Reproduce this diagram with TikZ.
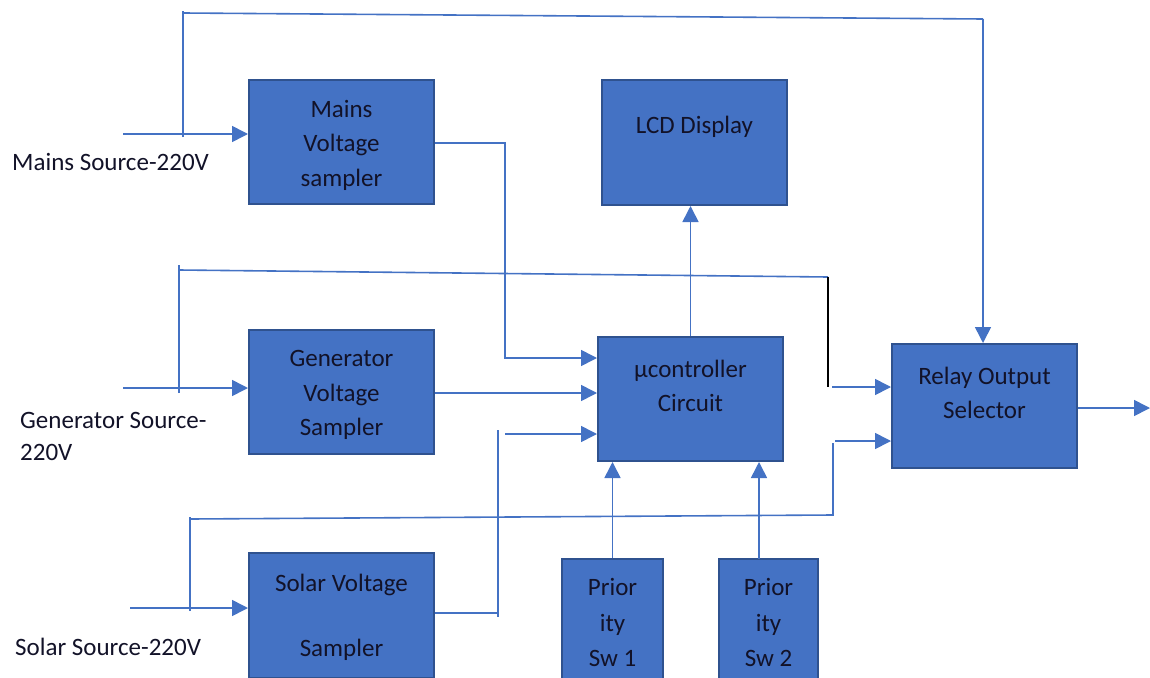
\documentclass[tikz,border=0pt]{standalone}
\usepackage{fontspec}
\setmainfont{Carlito}
\usetikzlibrary{arrows.meta}
\definecolor{boxfill}{HTML}{4472C4}
\definecolor{boxline}{HTML}{2F528F}
\definecolor{wirecol}{HTML}{4472C4}
\definecolor{txtcol}{RGB}{18,18,40}
\tikzset{
  blk/.style={draw=boxline, line width=2pt, fill=boxfill, inner sep=0pt},
  btxt/.style={inner sep=0pt, align=center, text=txtcol, font=\fontsize{25}{34.5}\selectfont},
  wire/.style={draw=wirecol, line width=1.6pt},
  arr/.style={wire, -{Triangle[length=16pt,width=16pt]}},
  lbl/.style={inner sep=0pt, align=left, text=txtcol, font=\fontsize{25}{32}\selectfont},
}
\begin{document}
\begin{tikzpicture}[x=1pt,y=-1pt]
\useasboundingbox (0,0) rectangle (1150,677);
% boxes
\node[blk, minimum width=185pt, minimum height=124pt] (mains) at (341.5,142) {};
\node[blk, minimum width=185pt, minimum height=125pt] (lcd) at (694.5,142.5) {};
\node[blk, minimum width=185pt, minimum height=124pt] (muc) at (690.5,399) {};
\node[blk, minimum width=185pt, minimum height=124pt] (gen) at (341.5,392) {};
\node[blk, minimum width=185pt, minimum height=124pt] (relay) at (984.5,406) {};
\node[blk, minimum width=185pt, minimum height=125pt] (solar) at (341.5,615.5) {};
\node[blk, minimum width=101pt, minimum height=127pt] (sw1) at (612.5,622.5) {};
\node[blk, minimum width=99pt, minimum height=127pt] (sw2) at (768.5,622.5) {};
% box texts
\node[btxt] (mainsT) at (341.5,145) {Mains\\Voltage\\sampler};
\node[btxt] (lcdT) at (694.5,126.5) {LCD Display};
\node[btxt, font=\fontsize{25}{33.5}\selectfont] (mucT) at (690.5,386) {µcontroller\\Circuit};
\node[btxt] (genT) at (341.5,395) {Generator\\Voltage\\Sampler};
\node[btxt, font=\fontsize{25}{33.5}\selectfont] (relayT) at (984.5,393) {Relay Output\\Selector};
\node[btxt, font=\fontsize{25}{32.5}\selectfont] (solarT) at (341.5,617.5) {Solar Voltage\\ \strut\\Sampler};
\node[btxt, font=\fontsize{25}{35.5}\selectfont] (sw1T) at (612.5,622.5) {Prior\\ity\\Sw 1};
\node[btxt, font=\fontsize{25}{35.5}\selectfont] (sw2T) at (768.5,622.5) {Prior\\ity\\Sw 2};
% labels
\node[lbl, anchor=west] (lm) at (12,162) {Mains Source-220V};
\node[lbl, anchor=west] (lg) at (20,436) {Generator Source-\\220V};
\node[lbl, anchor=west] (ls) at (15,647) {Solar Source-220V};
% mains input and bypass to relay
\coordinate (mIn) at (123,134);
\draw[arr] (mIn) -- (mIn -| mains.west);
\coordinate (mTapB) at (183,137);
\coordinate (mTapT) at (183,11);
\coordinate (mTopL) at (183,13);
\coordinate (mTopR) at (983,19);
\draw[wire] (mTapB) -- (mTapT);
\draw[wire] (mTopL) -- (mTopR);
\draw[arr] (mTopR) -- (mTopR |- relay.north);
% mains sampler to micro
\coordinate (m1) at (505,143);
\coordinate (m2) at (505,358);
\draw[arr] (m1 -| mains.east) -- (m1) -- (m2) -- (m2 -| muc.west);
% generator input and bypass
\coordinate (gIn) at (123,388);
\draw[arr] (gIn) -- (gIn -| gen.west);
\coordinate (gTapB) at (179,393);
\coordinate (gTapT) at (179,265);
\coordinate (gTopL) at (179,270);
\coordinate (gTopR) at (828,277);
\coordinate (gDown) at (828,387);
\coordinate (gArr) at (832,387);
\draw[wire] (gTapB) -- (gTapT);
\draw[wire] (gTopL) -- (gTopR);
\draw[black, line width=1.3pt] (gTopR) -- (gDown);
\draw[arr] (gArr) -- (gArr -| relay.west);
% generator sampler to micro
\coordinate (g1) at (434,393);
\draw[arr] (g1 -| gen.east) -- (g1 -| muc.west);
% solar sampler to micro
\coordinate (s1) at (498,613);
\coordinate (sV1) at (498,430);
\coordinate (sV2) at (498,617);
\coordinate (s3) at (505,434);
\draw[wire] (s1 -| solar.east) -- (s1);
\draw[wire] (sV1) -- (sV2);
\draw[arr] (s3) -- (s3 -| muc.west);
% solar input and bypass
\coordinate (sIn) at (130,608);
\draw[arr] (sIn) -- (sIn -| solar.west);
\coordinate (sTapB) at (190,611);
\coordinate (sTapT) at (190,517);
\coordinate (sBotL) at (190,519);
\coordinate (sBotR) at (833,515);
\coordinate (sUp) at (833,443);
\coordinate (sArr) at (835,441);
\draw[wire] (sTapB) -- (sTapT);
\draw[wire] (sBotL) -- (sBotR) -- (sUp);
\draw[arr] (sArr) -- (sArr -| relay.west);
% micro to LCD, switches to micro
\draw[arr] (muc.north) -- (muc.north |- lcd.south);
\draw[arr] (sw1.north) -- (sw1.north |- muc.south);
\coordinate (sw2top) at (759,559);
\draw[arr] (sw2top) -- (sw2top |- muc.south);
% relay output
\coordinate (rOut) at (1150,408);
\draw[arr] (rOut -| relay.east) -- (rOut);
\end{tikzpicture}
\end{document}
